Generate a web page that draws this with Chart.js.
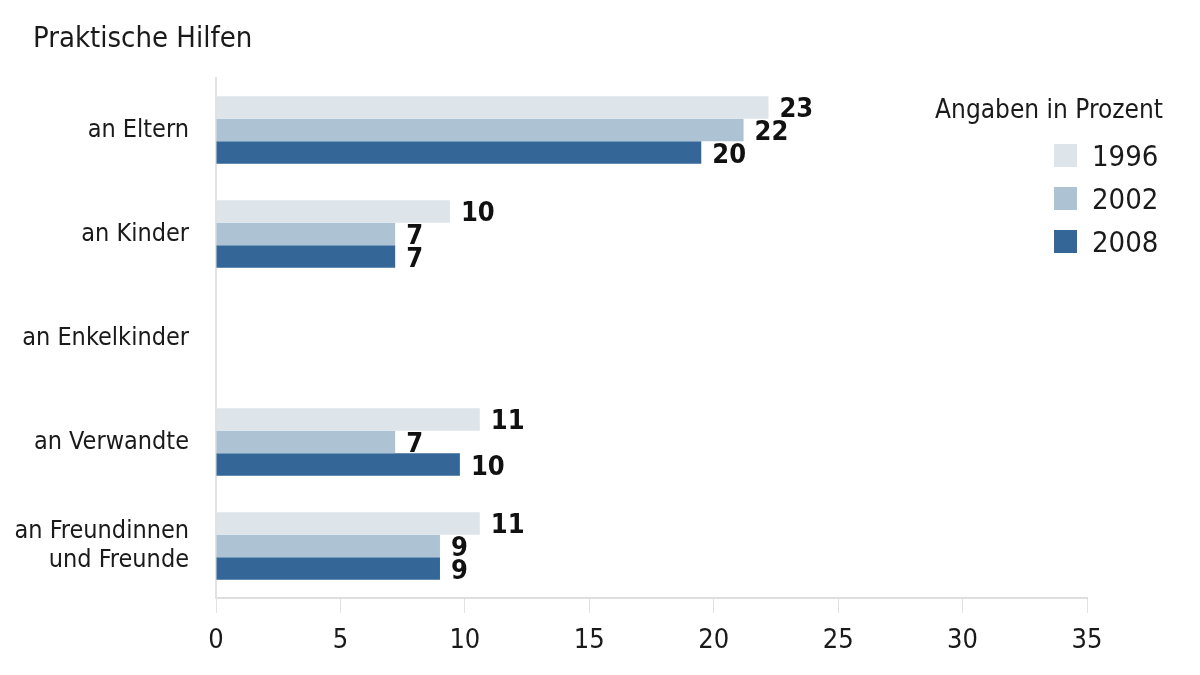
<!DOCTYPE html>
<html lang="de">

<head>
    <meta charset="UTF-8">
    <script src="https://cdn.jsdelivr.net/npm/chart.js"></script>
    <title>Praktische Hilfen</title>
    <style>
        body {
            margin: 0;
            background: #ffffff;
            font-family: 'Liberation Sans Narrow', 'DejaVu Sans Condensed', sans-serif;
            color: #1a1a1a;
        }

        .wrap {
            position: relative;
            width: 1200px;
            height: 675px;
        }

        .title {
            position: absolute;
            left: 33px;
            top: 18px;
            font-size: 29px;
            line-height: 38px;
        }

        /* legend box, top right */
        .legend {
            position: absolute;
            right: 37px;
            top: 92px;
            text-align: right;
        }

        .legend .head {
            font-size: 26px;
            line-height: 34px;
            margin-bottom: 8px;
        }

        .legend .item {
            display: flex;
            align-items: center;
            justify-content: flex-start;
            margin-left: auto;
            width: 109px;
            height: 43px;
            font-size: 29px;
        }

        .legend .swatch {
            width: 23px;
            height: 23px;
            margin-right: 15px;
        }
    </style>
</head>

<body>
    <div class="wrap">
        <canvas id="chart"></canvas>
        <div class="title">Praktische Hilfen</div>
        <div class="legend" id="legend">
            <div class="head">Angaben in Prozent</div>
        </div>
    </div>

    <script>
        // categories (y axis)
        const categories = [
            'an Eltern',
            'an Kinder',
            'an Enkelkinder',
            'an Verwandte',
            ['an Freundinnen', 'und Freunde']
        ];

        const years = ['1996', '2002', '2008'];
        const colors = ['#dde4ea', '#adc3d3', '#346698'];

        // bar lengths
        const values1996 = [22.2, 9.4, null, 10.6, 10.6];
        const values2002 = [21.2, 7.2, null, 7.2, 9.0];
        const values2008 = [19.5, 7.2, null, 9.8, 9.0];

        // numbers printed next to the bars
        const labels1996 = [23, 10, null, 11, 11];
        const labels2002 = [22, 7, null, 7, 9];
        const labels2008 = [20, 7, null, 10, 9];

        const xTicks = [0, 5, 10, 15, 20, 25, 30, 35];

        const seriesValues = [values1996, values2002, values2008];
        const seriesLabels = [labels1996, labels2002, labels2008];

        const FONT = "'Liberation Sans Narrow', 'DejaVu Sans Condensed', sans-serif";

        // legend built from the series
        const legend = document.getElementById('legend');
        years.forEach((y, i) => {
            const item = document.createElement('div');
            item.className = 'item';
            item.innerHTML = '<span class="swatch" style="background:' + colors[i] + '"></span>' + y;
            legend.appendChild(item);
        });

        // draws the bold value next to each bar end
        const valueLabels = {
            id: 'valueLabels',
            afterDatasetsDraw(chart) {
                const ctx = chart.ctx;
                ctx.save();
                ctx.font = "bold 27px " + FONT;
                ctx.fillStyle = '#111111';
                ctx.textAlign = 'left';
                ctx.textBaseline = 'middle';
                chart.data.datasets.forEach((ds, di) => {
                    const meta = chart.getDatasetMeta(di);
                    meta.data.forEach((bar, i) => {
                        const txt = seriesLabels[di][i];
                        if (txt === null || ds.data[i] === null) return;
                        ctx.fillText(String(txt), bar.x + 11, bar.y + 3);
                    });
                });
                ctx.restore();
            }
        };

        new Chart(document.getElementById('chart'), {
            type: 'bar',
            data: {
                labels: categories,
                datasets: years.map((y, i) => ({
                    label: y,
                    data: seriesValues[i],
                    backgroundColor: colors[i],
                    borderWidth: 0,
                    categoryPercentage: 0.65,
                    barPercentage: 1.0
                }))
            },
            options: {
                indexAxis: 'y',
                responsive: true,
                maintainAspectRatio: false,
                animation: false,
                layout: {
                    padding: { top: 78, right: 113, left: 0, bottom: 0 }
                },
                plugins: {
                    legend: { display: false },
                    tooltip: { enabled: false }
                },
                scales: {
                    x: {
                        min: 0,
                        max: 35,
                        afterBuildTicks: (scale) => {
                            scale.ticks = xTicks.map(v => ({ value: v }));
                        },
                        afterFit: (scale) => { scale.height = 77; },
                        border: { display: true, color: '#dedede', width: 2 },
                        grid: {
                            drawOnChartArea: false,
                            drawTicks: true,
                            tickLength: 15,
                            color: '#e2e2e2',
                            lineWidth: 1
                        },
                        ticks: {
                            padding: 12,
                            color: '#1a1a1a',
                            font: { family: FONT, size: 27 }
                        }
                    },
                    y: {
                        afterFit: (scale) => { scale.width = 216; },
                        border: { display: true, color: '#e2e2e2', width: 2 },
                        grid: { display: false },
                        ticks: {
                            padding: 19,
                            color: '#1a1a1a',
                            font: { family: FONT, size: 25, lineHeight: 1.15 }
                        }
                    }
                }
            },
            plugins: [valueLabels]
        });
    </script>
</body>

</html>
